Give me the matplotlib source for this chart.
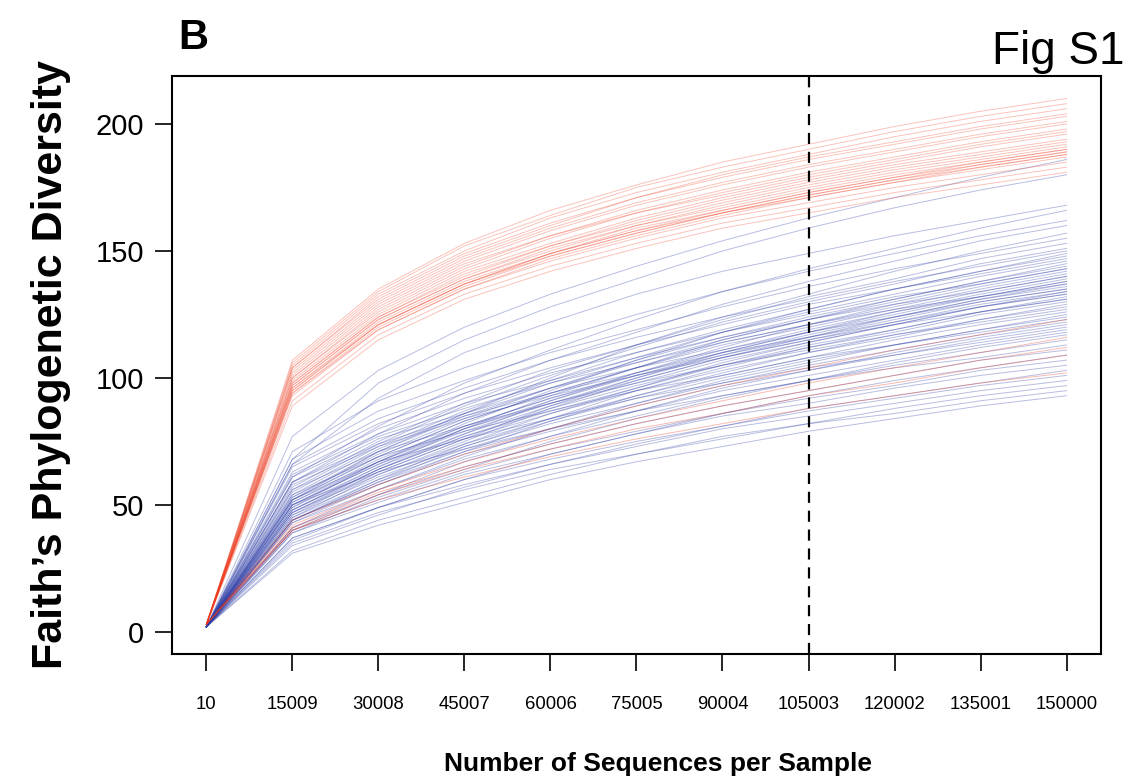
import matplotlib
matplotlib.use("Agg")
import matplotlib.pyplot as plt

plt.rcParams['font.family'] = ['Liberation Sans', 'DejaVu Sans']

# rarefaction depths (categorical, equally spaced)
depths = ['10', '15009', '30008', '45007', '60006', '75005', '90004',
          '105003', '120002', '135001', '150000']
cutoff_depth = '105003'

# Faith's PD, red group (upper cluster)
red_upper = [
    [3, 107, 135, 153, 166, 176, 185, 192, 199, 205, 210],
    [3, 106, 134, 152, 164, 175, 183, 190, 197, 203, 208],
    [3, 105, 133, 150, 163, 173, 181, 188, 195, 201, 206],
    [3, 104, 132, 149, 161, 171, 180, 187, 193, 199, 204],
    [3, 104, 131, 148, 160, 171, 179, 186, 192, 198, 203],
    [3, 103, 130, 147, 159, 169, 177, 184, 190, 196, 201],
    [3, 102, 129, 146, 158, 168, 176, 183, 189, 195, 200],
    [3, 101, 128, 145, 156, 166, 174, 181, 187, 193, 198],
    [3, 100, 127, 144, 156, 165, 173, 180, 186, 192, 197],
    [3, 100, 126, 143, 155, 165, 172, 179, 185, 191, 196],
    [3, 99, 125, 142, 153, 163, 171, 178, 184, 189, 194],
    [3, 98, 124, 141, 152, 162, 170, 177, 183, 188, 193],
    [3, 98, 124, 140, 152, 161, 169, 176, 182, 187, 192],
    [3, 97, 123, 139, 151, 160, 168, 175, 181, 186, 191],
    [3, 97, 123, 139, 150, 160, 167, 174, 180, 185, 190],
    [3, 95, 121, 137, 149, 158, 166, 173, 179, 185, 190],
    [3, 96, 122, 138, 149, 159, 166, 173, 179, 184, 189],
    [3, 94, 120, 136, 148, 157, 165, 172, 178, 184, 189],
    [3, 96, 121, 137, 149, 158, 165, 172, 178, 183, 188],
    [3, 93, 119, 135, 147, 156, 164, 171, 177, 183, 188],
    [3, 95, 121, 137, 148, 157, 165, 171, 177, 182, 187],
    [3, 94, 119, 135, 146, 155, 163, 169, 175, 180, 185],
    [3, 91, 117, 133, 144, 153, 161, 167, 173, 178, 183],
    [3, 89, 115, 131, 142, 151, 159, 165, 171, 176, 181],
]

# red group, low-diversity samples
red_lower = [
    [3, 44, 58, 70, 80, 89, 97, 104, 111, 117, 123],
    [3, 42, 56, 67, 76, 84, 91, 98, 104, 110, 116],
    [3, 41, 55, 65, 74, 82, 89, 95, 101, 107, 112],
    [3, 40, 54, 64, 72, 80, 86, 93, 98, 104, 109],
    [3, 40, 52, 61, 69, 76, 82, 88, 93, 98, 102],
]

# blue group
blue = [
    [2, 77, 103, 120, 133, 144, 154, 163, 171, 179, 186],
    [2, 68, 98, 115, 128, 139, 150, 159, 167, 174, 180],
    [2, 66, 92, 110, 122, 133, 142, 149, 156, 162, 168],
    [2, 61, 81, 98, 111, 123, 134, 143, 151, 159, 166],
    [2, 71, 91, 104, 115, 125, 134, 142, 149, 156, 162],
    [2, 59, 78, 94, 107, 118, 129, 138, 146, 154, 160],
    [2, 52, 71, 86, 100, 113, 124, 133, 142, 150, 157],
    [2, 68, 87, 99, 110, 119, 128, 136, 143, 149, 155],
    [2, 57, 75, 90, 103, 113, 123, 132, 139, 147, 153],
    [2, 56, 74, 89, 101, 112, 122, 130, 137, 145, 151],
    [2, 66, 84, 96, 107, 116, 124, 131, 138, 144, 150],
    [2, 49, 67, 82, 95, 107, 118, 127, 135, 142, 149],
    [2, 55, 73, 87, 99, 110, 119, 127, 135, 142, 148],
    [2, 65, 82, 94, 104, 113, 121, 129, 135, 141, 147],
    [2, 54, 72, 86, 98, 108, 118, 126, 133, 140, 146],
    [2, 48, 65, 80, 93, 104, 115, 123, 131, 138, 145],
    [2, 53, 71, 85, 96, 107, 116, 124, 131, 138, 144],
    [2, 63, 80, 92, 102, 110, 118, 125, 132, 137, 143],
    [2, 53, 70, 84, 96, 106, 115, 123, 130, 137, 143],
    [2, 47, 64, 78, 91, 102, 112, 121, 129, 136, 142],
    [2, 52, 69, 83, 94, 104, 114, 121, 128, 135, 141],
    [2, 62, 78, 90, 99, 108, 116, 123, 129, 134, 140],
    [2, 52, 69, 83, 94, 104, 113, 120, 127, 134, 140],
    [2, 46, 63, 76, 89, 100, 110, 118, 126, 133, 139],
    [2, 51, 68, 81, 92, 102, 111, 119, 126, 132, 138],
    [2, 61, 77, 88, 98, 106, 114, 121, 127, 132, 138],
    [2, 51, 67, 81, 92, 101, 110, 118, 125, 132, 137],
    [2, 45, 62, 75, 88, 99, 108, 116, 124, 131, 137],
    [2, 50, 67, 80, 91, 101, 109, 117, 124, 131, 136],
    [2, 59, 76, 86, 96, 104, 111, 118, 124, 130, 135],
    [2, 50, 66, 80, 90, 100, 109, 116, 123, 130, 135],
    [2, 44, 60, 74, 86, 96, 106, 114, 121, 128, 134],
    [2, 50, 66, 79, 90, 99, 108, 115, 122, 129, 134],
    [2, 59, 74, 85, 94, 102, 110, 116, 122, 128, 133],
    [2, 49, 65, 78, 89, 98, 107, 114, 121, 128, 133],
    [2, 44, 59, 73, 84, 95, 104, 112, 119, 126, 132],
    [2, 48, 64, 77, 88, 97, 105, 113, 119, 126, 131],
    [2, 58, 73, 84, 93, 101, 108, 115, 121, 126, 131],
    [2, 48, 64, 77, 87, 96, 105, 112, 118, 125, 130],
    [2, 43, 58, 71, 83, 93, 102, 110, 117, 123, 129],
    [2, 47, 63, 76, 86, 95, 103, 110, 116, 123, 128],
    [2, 56, 71, 81, 90, 98, 105, 111, 117, 122, 127],
    [2, 47, 62, 74, 84, 93, 101, 108, 115, 121, 126],
    [2, 41, 56, 69, 80, 90, 99, 106, 113, 119, 125],
    [2, 46, 61, 73, 83, 92, 100, 107, 113, 119, 124],
    [2, 54, 69, 79, 87, 95, 101, 108, 113, 118, 123],
    [2, 45, 60, 72, 82, 90, 98, 105, 111, 117, 122],
    [2, 40, 54, 67, 77, 87, 96, 103, 110, 116, 121],
    [2, 44, 59, 71, 80, 89, 97, 103, 109, 115, 120],
    [2, 52, 67, 76, 84, 92, 98, 104, 109, 114, 119],
    [2, 44, 58, 70, 79, 87, 95, 101, 107, 113, 118],
    [2, 39, 53, 64, 75, 84, 92, 99, 106, 112, 117],
    [2, 43, 56, 68, 77, 85, 93, 99, 105, 110, 115],
    [2, 50, 63, 72, 80, 87, 93, 99, 104, 108, 113],
    [2, 41, 54, 65, 74, 82, 89, 95, 101, 107, 111],
    [2, 36, 49, 60, 70, 78, 86, 93, 99, 104, 109],
    [2, 40, 52, 63, 72, 79, 86, 92, 97, 103, 107],
    [2, 39, 51, 62, 70, 78, 85, 90, 96, 101, 105],
    [2, 34, 46, 57, 66, 74, 81, 88, 93, 98, 103],
    [2, 37, 49, 60, 68, 75, 81, 87, 92, 97, 101],
    [2, 37, 49, 58, 66, 73, 80, 85, 90, 95, 99],
    [2, 32, 44, 53, 62, 70, 77, 82, 88, 93, 97],
    [2, 35, 47, 56, 64, 70, 76, 82, 86, 91, 95],
    [2, 31, 42, 51, 60, 67, 73, 79, 84, 89, 93],
]

RED = '#EE3A1E'
BLUE = '#2F3FA8'

fig = plt.figure(figsize=(11.27, 7.84), dpi=100)
ax = fig.add_axes([0.1526, 0.1658, 0.8243, 0.7373])

x = list(range(len(depths)))
for y in blue:
    ax.plot(x, y, color=BLUE, lw=0.7, alpha=0.34)
for y in red_lower:
    ax.plot(x, y, color=RED, lw=0.7, alpha=0.35)
for y in red_upper:
    ax.plot(x, y, color=RED, lw=0.7, alpha=0.3)

ax.axvline(depths.index(cutoff_depth), color='black', lw=1.6,
           linestyle=(0, (5, 3.5)))

ax.set_xlim(-0.4, len(depths) - 1 + 0.4)
ax.set_ylim(-8.7, 218.9)
ax.set_xticks(x)
ax.set_xticklabels(depths, fontsize=13.3)
ax.set_yticks([0, 50, 100, 150, 200])
ax.tick_params(axis='y', labelsize=21, length=12, width=1.2, pad=8)
ax.tick_params(axis='x', length=12, width=1.2, pad=18)
for s in ax.spines.values():
    s.set_linewidth(1.5)

ax.set_xlabel('Number of Sequences per Sample', fontsize=19,
              fontweight='bold', labelpad=30)
ax.xaxis.set_label_coords(0.523, -0.17)
ax.set_ylabel('Faith\u2019s Phylogenetic Diversity', fontsize=31,
              fontweight='bold', labelpad=18)

fig.text(0.158, 0.938, 'B', fontsize=30, fontweight='bold')
fig.text(0.998, 0.918, 'Fig S1', fontsize=33, ha='right')

fig.savefig('out.png', dpi=100)
